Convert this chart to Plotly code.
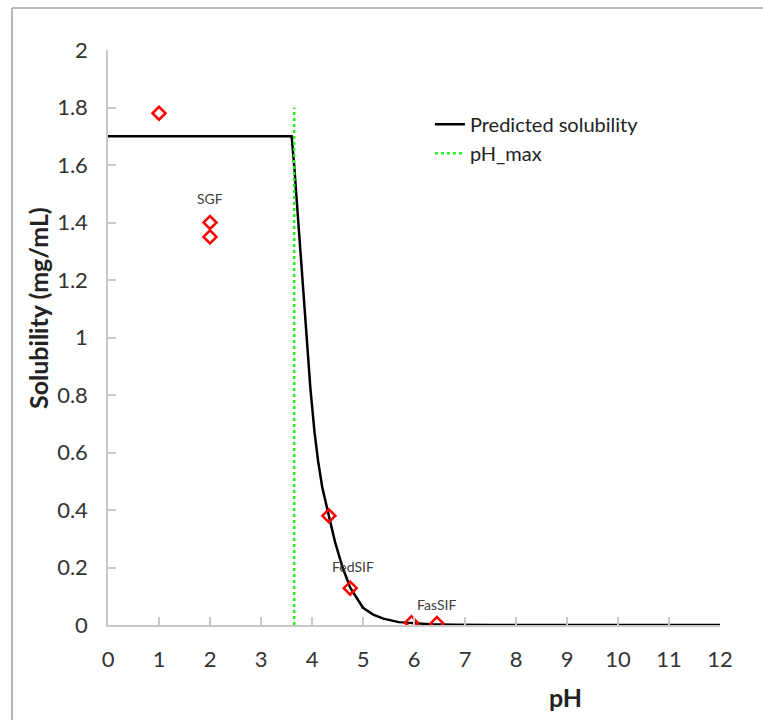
import plotly.graph_objects as go

# Predicted solubility curve
curve_ph = [0, 3.6, 3.65, 3.73, 3.8, 3.86, 3.92, 3.97, 4.05, 4.12, 4.2, 4.27, 4.33, 4.45, 4.6, 4.75,
            4.9, 5.0, 5.2, 5.4, 5.7, 5.95, 6.3, 6.8, 7.5, 12.0]
curve_sol = [1.7, 1.7, 1.6, 1.41, 1.24, 1.08, 0.93, 0.82, 0.67, 0.57, 0.48, 0.42, 0.38, 0.29, 0.20, 0.13,
             0.085, 0.06, 0.036, 0.022, 0.010, 0.006, 0.003, 0.001, 0.0, 0.0]

# Measured data points
obs_ph = [1.0, 2.0, 2.0, 4.33, 4.75, 5.95, 6.45]
obs_sol = [1.78, 1.40, 1.35, 0.38, 0.128, 0.008, 0.005]

# pH_max line
phmax_x = [3.65, 3.65]
phmax_y = [0.0, 1.8]

# Labels
label_text = ["SGF", "FedSIF", "FasSIF"]
label_x = [2.0, 4.8, 6.45]
label_y = [1.485, 0.205, 0.073]

x_ticks = list(range(0, 13))
y_ticks = [0, 0.2, 0.4, 0.6, 0.8, 1, 1.2, 1.4, 1.6, 1.8, 2]

FONT = "Lato, 'Open Sans', sans-serif"
AXIS_COL = "#c8c8c8"

fig = go.Figure()
fig.add_trace(go.Scatter(x=curve_ph, y=curve_sol, mode="lines", name="Predicted solubility",
                         line=dict(color="black", width=2.5)))
fig.add_trace(go.Scatter(x=phmax_x, y=phmax_y, mode="lines", name="pH_max",
                         line=dict(color="#22ee22", width=2.5, dash="dot")))
fig.add_trace(go.Scatter(x=obs_ph, y=obs_sol, mode="markers", showlegend=False,
                         marker=dict(symbol="diamond-open", size=10, color="red",
                                     line=dict(color="red", width=2.5))))

for t, x, y in zip(label_text, label_x, label_y):
    fig.add_annotation(x=x, y=y, text=t, showarrow=False, xref="x", yref="y",
                       font=dict(family=FONT, size=14, color="#404040"))

fig.add_annotation(x=(565 - 108) / 612, y=(625 - 697) / 575, xref="paper", yref="paper",
                   xanchor="center", yanchor="middle", text="<b>pH</b>", showarrow=False,
                   font=dict(family=FONT, size=25, color="#222"))
fig.add_annotation(x=(38 - 108) / 612, y=(625 - 308) / 575, xref="paper", yref="paper",
                   xanchor="center", yanchor="middle",
                   text="<b>Solubility (mg/mL)</b>", showarrow=False, textangle=-90,
                   font=dict(family=FONT, size=25, color="#222"))

# Outer frame (top and left lines)
fig.add_shape(type="line", xref="paper", yref="paper",
              x0=(12 - 108) / 612, x1=(763 - 108) / 612, y0=(625 - 8) / 575, y1=(625 - 8) / 575,
              line=dict(color="#a0a0a0", width=1.5))
fig.add_shape(type="line", xref="paper", yref="paper",
              x0=(12 - 108) / 612, x1=(12 - 108) / 612, y0=(625 - 8) / 575, y1=(625 - 720) / 575,
              line=dict(color="#a0a0a0", width=1.5))

fig.update_layout(
    width=763, height=720,
    margin=dict(l=108, r=43, t=50, b=95),
    paper_bgcolor="white", plot_bgcolor="white",
    font=dict(family=FONT, size=22, color="#333"),
    legend=dict(x=0.526, y=0.905, xanchor="left", yanchor="top",
                font=dict(family=FONT, size=20, color="#222"),
                bgcolor="rgba(0,0,0,0)", tracegroupgap=0, itemwidth=30),
    showlegend=True,
)
fig.update_xaxes(range=[0, 12], tickvals=x_ticks, showgrid=False, zeroline=False,
                 showline=True, linecolor=AXIS_COL, linewidth=1.5,
                 ticks="inside", ticklen=8, tickcolor=AXIS_COL, tickwidth=1.5,
                 ticklabelstandoff=14, tickfont=dict(size=22, color="#333"))
fig.update_yaxes(range=[0, 2], tickvals=y_ticks, showgrid=False, zeroline=False,
                 showline=True, linecolor=AXIS_COL, linewidth=1.5,
                 ticks="inside", ticklen=8, tickcolor=AXIS_COL, tickwidth=1.5,
                 ticklabelstandoff=14, tickfont=dict(size=22, color="#333"))

fig.write_html("out.html")
